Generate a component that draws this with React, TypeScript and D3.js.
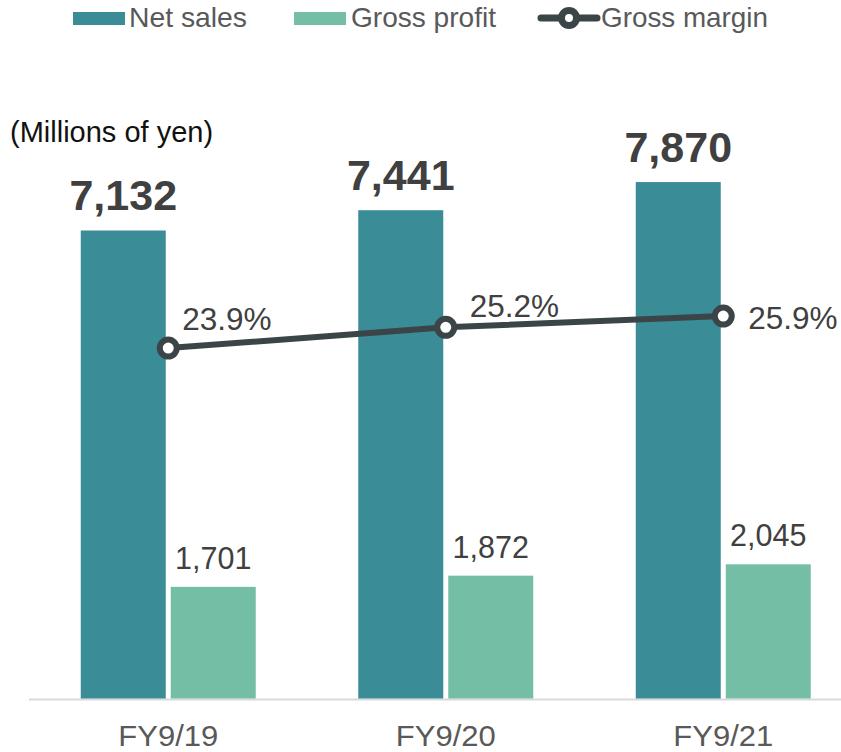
import React from "react";
import * as d3 from "d3";

const categories = ["FY9/19", "FY9/20", "FY9/21"];
const netSales = [7132, 7441, 7870];
const grossProfit = [1701, 1872, 2045];
const grossMargin = [23.9, 25.2, 25.9];
const seriesNames = ["Net sales", "Gross profit", "Gross margin"];

const W = 841;
const H = 752;
const FONT = "'Liberation Sans', Arial, Helvetica, sans-serif";
const C_NET = "#3A8C96";
const C_GROSS = "#75BEA6";
const C_LINE = "#3B4547";
const C_TEXT = "#404040";

export default function App() {
  const baseY = 698.5;
  const x0 = d3.scaleBand<string>().domain(categories).range([29.5, 862]).padding(0);
  const x1 = d3.scaleBand<string>().domain(["net", "gross"]).range([-87.5, 87.5]).paddingInner(0.0556);
  const yBar = d3.scaleLinear().domain([0, 10000]).range([baseY, baseY - 656.2]);
  const yPct = d3.scaleLinear().domain([2, 30]).range([baseY, baseY - 28 * 16]);

  const cx = (c: string) => (x0(c) as number) + x0.bandwidth() / 2;
  const line = d3
    .line<number>()
    .x((_, i) => cx(categories[i]))
    .y((d) => yPct(d));

  const pctLabelPos = [
    { dx: 14, dy: -18, anchor: "start" },
    { dx: 24, dy: -10, anchor: "start" },
    { dx: 25, dy: 13, anchor: "start" },
  ];

  return (
    <svg width={W} height={H} style={{ position: "absolute", left: 0, top: 0, background: "#fff" }} fontFamily={FONT}>
      {/* Legend */}
      <g>
        <rect x={73} y={12} width={52} height={13} fill={C_NET} />
        <text x={129} y={27} fontSize={28.5} fill="#595959" textLength={118} lengthAdjust="spacingAndGlyphs">{seriesNames[0]}</text>
        <rect x={294} y={12} width={52} height={13} fill={C_GROSS} />
        <text x={351} y={27} fontSize={28.5} fill="#595959" textLength={145} lengthAdjust="spacingAndGlyphs">{seriesNames[1]}</text>
        <line x1={541} x2={597} y1={18} y2={18} stroke={C_LINE} strokeWidth={7} strokeLinecap="round" />
        <circle cx={569} cy={18} r={7.5} fill="#fff" stroke={C_LINE} strokeWidth={7} />
        <text x={601} y={27} fontSize={28.5} fill="#595959" textLength={167} lengthAdjust="spacingAndGlyphs">{seriesNames[2]}</text>
      </g>

      <text x={10} y={142} fontSize={29} fill="#111">(Millions of yen)</text>

      {/* Axis */}
      <line x1={29} x2={W} y1={baseY + 1} y2={baseY + 1} stroke="#D9D9D9" strokeWidth={2} />

      {categories.map((c, i) => {
        const xc = cx(c);
        const xn = xc + (x1("net") as number);
        const xg = xc + (x1("gross") as number);
        const bw = x1.bandwidth();
        return (
          <g key={c}>
            <rect x={xn} y={yBar(netSales[i])} width={bw} height={baseY - yBar(netSales[i])} fill={C_NET} />
            <rect x={xg} y={yBar(grossProfit[i])} width={bw} height={baseY - yBar(grossProfit[i])} fill={C_GROSS} />
            <text x={xn + bw / 2} y={yBar(netSales[i]) - 20} fontSize={43} fontWeight="bold" fill={C_TEXT} textAnchor="middle">
              {d3.format(",")(netSales[i])}
            </text>
            <text x={xg + bw / 2} y={yBar(grossProfit[i]) - 18} fontSize={30.5} fill={C_TEXT} textAnchor="middle">
              {d3.format(",")(grossProfit[i])}
            </text>
            <text x={xc} y={745.5} fontSize={29.5} fill="#595959" textAnchor="middle" textLength={100} lengthAdjust="spacingAndGlyphs">{c}</text>
          </g>
        );
      })}

      <path d={line(grossMargin) || ""} fill="none" stroke={C_LINE} strokeWidth={6} />
      {grossMargin.map((v, i) => {
        const xc = cx(categories[i]);
        const p = pctLabelPos[i];
        return (
          <g key={i}>
            <circle cx={xc} cy={yPct(v)} r={8.5} fill="#fff" stroke={C_LINE} strokeWidth={6} />
            <text x={xc + p.dx} y={yPct(v) + p.dy} fontSize={31.5} fill={C_TEXT} textAnchor={p.anchor as any}>
              {v.toFixed(1)}%
            </text>
          </g>
        );
      })}
    </svg>
  );
}
